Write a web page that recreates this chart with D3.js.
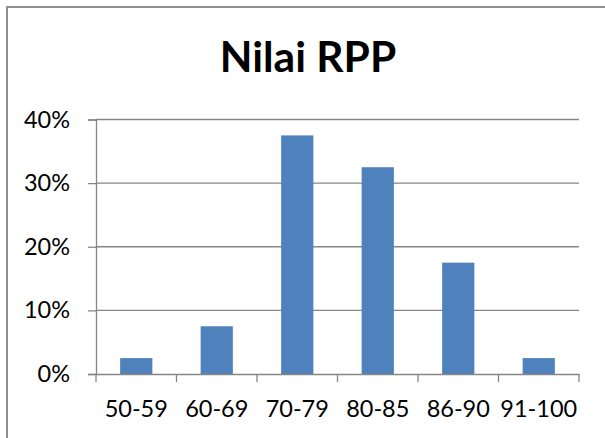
<!DOCTYPE html>
<html>
<head>
<meta charset="utf-8">
<script src="https://cdn.jsdelivr.net/npm/d3@7"></script>
<style>
  html, body { margin: 0; padding: 0; background: #fff; }
  svg { display: block; }
  text { font-family: Lato, "Open Sans", sans-serif; fill: #000; }
</style>
</head>
<body>
<script>
const title = "Nilai RPP";
const categories = ["50-59", "60-69", "70-79", "80-85", "86-90", "91-100"];
const values = [0.025, 0.075, 0.375, 0.325, 0.175, 0.025];
const yTicks = [0, 0.1, 0.2, 0.3, 0.4];

const W = 605, H = 438;
const margin = { left: 96, right: 26, top: 119.5, bottom: 64 };
const plotW = W - margin.left - margin.right;
const plotH = H - margin.top - margin.bottom;

const svg = d3.select("body").append("svg").attr("width", W).attr("height", H);

// chart frame (top and left edges visible)
svg.append("path")
  .attr("d", `M7,${H} L7,7 L${W},7`)
  .attr("fill", "none").attr("stroke", "#8e8e8e").attr("stroke-width", 2);

// title
svg.append("text")
  .attr("x", 308).attr("y", 72)
  .attr("text-anchor", "middle")
  .attr("font-weight", "bold").attr("font-size", 42.5)
  .text(title);

const g = svg.append("g").attr("transform", `translate(${margin.left},${margin.top})`);

const x = d3.scaleBand().domain(categories).range([0, plotW]).padding(0);
const y = d3.scaleLinear().domain([0, 0.4]).range([plotH, 0]);

// gridlines
g.append("g").selectAll("line").data(yTicks.filter(d => d > 0)).join("line")
  .attr("x1", 0).attr("x2", plotW)
  .attr("y1", d => y(d)).attr("y2", d => y(d))
  .attr("stroke", "#868686").attr("stroke-width", 1.3);

// bars
const barFrac = 0.4;
g.append("g").selectAll("rect").data(categories).join("rect")
  .attr("x", (c) => x(c) + x.bandwidth() * (1 - barFrac) / 2)
  .attr("width", x.bandwidth() * barFrac)
  .attr("y", (c, i) => y(values[i]))
  .attr("height", (c, i) => plotH - y(values[i]))
  .attr("fill", "#4F81BD");

// y axis
const yAxis = g.append("g")
  .call(d3.axisLeft(y).tickValues(yTicks).tickFormat(d3.format(".0%")).tickSize(8).tickPadding(18));
yAxis.select(".domain").attr("stroke", "#868686").attr("stroke-width", 1.3);
yAxis.selectAll(".tick line").attr("stroke", "#868686").attr("stroke-width", 1.3);
yAxis.selectAll("text").attr("font-size", 23.5).attr("font-family", "Lato, sans-serif").attr("fill", "#000");

// x axis
const xAxis = g.append("g").attr("transform", `translate(0,${plotH})`)
  .call(d3.axisBottom(x).tickSize(0).tickPadding(26));
xAxis.select(".domain").attr("stroke", "#868686").attr("stroke-width", 1.3);
xAxis.selectAll("text").attr("font-size", 23.5).attr("font-family", "Lato, sans-serif").attr("fill", "#000");
// tick marks at category boundaries
const bounds = categories.map(c => x(c)).concat([x.range()[1]]);
xAxis.append("g").selectAll("line").data(bounds).join("line")
  .attr("x1", d => d).attr("x2", d => d)
  .attr("y1", 0).attr("y2", 8)
  .attr("stroke", "#868686").attr("stroke-width", 1.3);
</script>
</body>
</html>
